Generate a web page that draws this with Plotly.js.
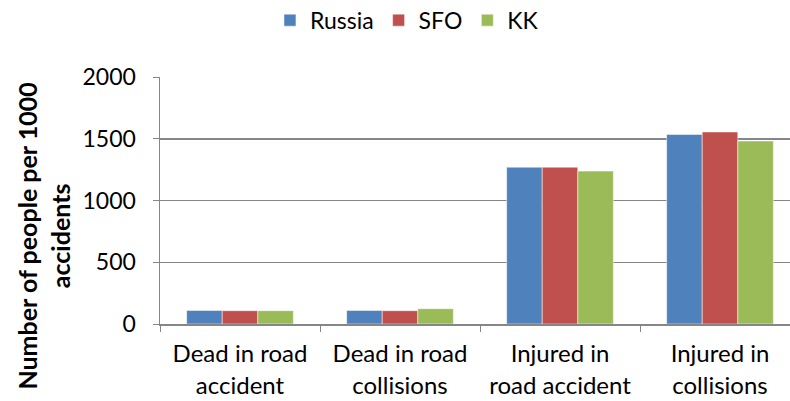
<!DOCTYPE html>
<html><head><meta charset="utf-8">
<script src="https://cdn.plot.ly/plotly-3.0.1.min.js"></script>
<style>body{margin:0;background:#fff}#c{width:790px;height:401px}</style>
</head><body><div id="c"></div>
<script>
const categories = ["Dead in road<br>accident", "Dead in road<br>collisions", "Injured in<br>road accident", "Injured in<br>collisions"];
const russia = [110, 110, 1270, 1535];
const sfo = [108, 108, 1270, 1555];
const kk = [108, 124, 1238, 1482];
const seriesNames = ["Russia", "SFO", "KK"];
const colors = ["#4F81BD", "#C0504D", "#9BBB59"];
const yTicks = [0, 500, 1000, 1500, 2000];
const yTitle = "Number of people per 1000<br>accidents";

const font = "Lato, 'Open Sans', sans-serif";
const data = [russia, sfo, kk].map((v, i) => ({
  type: "bar", x: categories, y: v, name: seriesNames[i],
  marker: {color: colors[i], line: {color: "#ffffff", width: 0.5}}
}));
const layout = {
  width: 790, height: 401,
  margin: {l: 160, r: 0, t: 77, b: 77, autoexpand: false},
  paper_bgcolor: "#fff", plot_bgcolor: "#fff",
  font: {family: font, size: 24, color: "#000"},
  barmode: "group", bargap: 0.333, bargroupgap: 0,
  showlegend: true,
  legend: {orientation: "h", x: 0.392, xref: "paper", xanchor: "center", y: 1.23, yanchor: "middle",
           font: {family: font, size: 23}, traceorder: "normal"},
  xaxis: {range: [-0.5, 3.4375], showline: true, linecolor: "#868686", linewidth: 1.5,
          ticks: "outside", tickson: "boundaries", ticklen: 6, tickcolor: "#868686",
          ticklabelstandoff: 8,
          tickfont: {family: font, size: 24}, showgrid: false, zeroline: false},
  yaxis: {range: [0, 2000], tickvals: yTicks, ticktext: yTicks.map(String),
          showline: true, linecolor: "#868686", linewidth: 1.5,
          ticks: "outside", ticklen: 6, tickcolor: "#868686", ticklabelstandoff: 12,
          showgrid: true, gridcolor: "#868686", gridwidth: 1.5, zeroline: false,
          tickfont: {family: font, size: 23}},
  annotations: [{text: "<b>" + yTitle + "</b>", textangle: -90, xref: "paper", yref: "paper",
                 x: -0.185, y: 0.356, xanchor: "center", yanchor: "middle", showarrow: false,
                 font: {family: font, size: 25}}]
};
Plotly.newPlot("c", data, layout, {displayModeBar: false, staticPlot: true});
</script></body></html>
